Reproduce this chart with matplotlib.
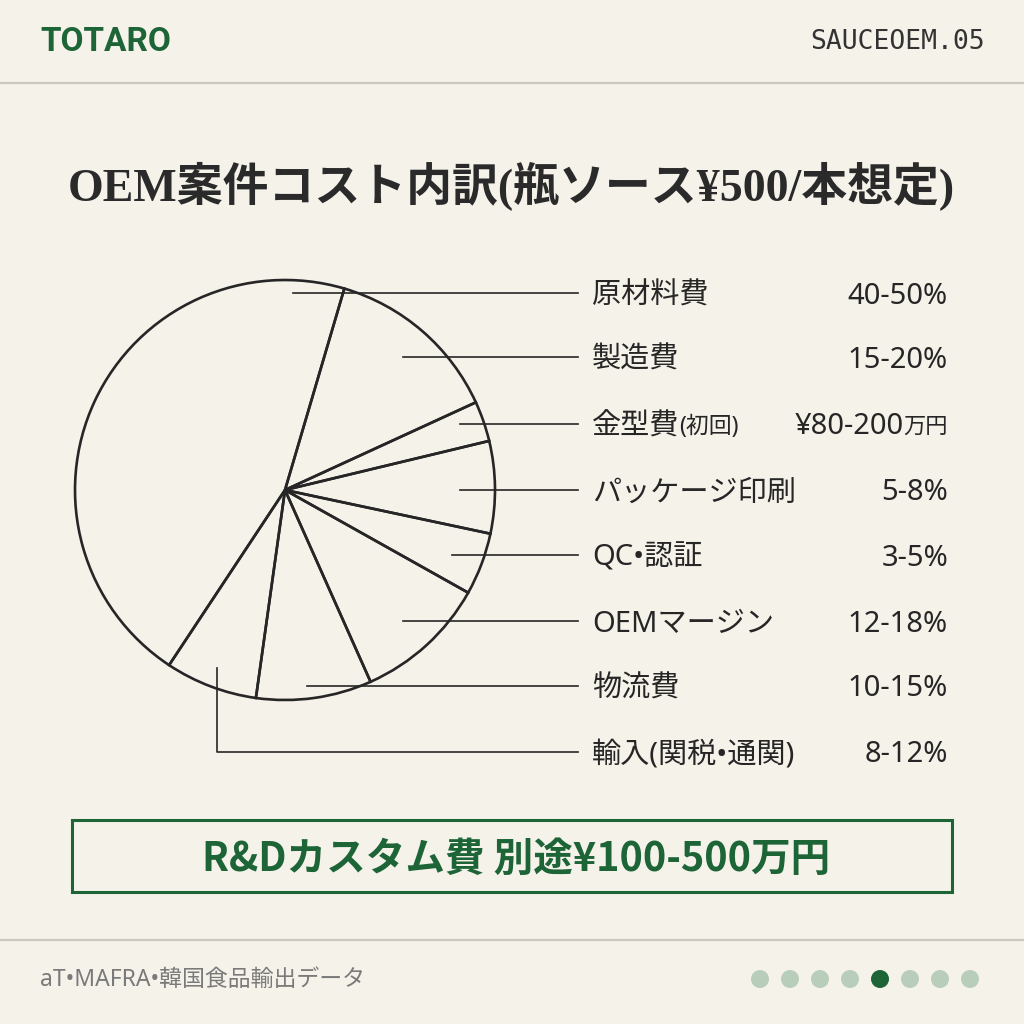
import matplotlib
matplotlib.use("Agg")
import matplotlib.pyplot as plt
from matplotlib.patches import Rectangle, Circle

# cost breakdown (share of the pie)
categories = ["原材料費", "製造費", "金型費", "パッケージ印刷", "QC•認証",
              "OEMマージン", "物流費", "輸入(関税•通関)"]
shares = [45.3, 13.6, 3.1, 7.1, 4.8, 10.2, 8.9, 7.1]
ranges = ["40-50%", "15-20%", "¥80-200万円", "5-8%", "3-5%",
          "12-18%", "10-15%", "8-12%"]

title = "OEM案件コスト内訳(瓶ソース¥500/本想定)"
note = "R&Dカスタム費 別途¥100-500万円"
source = "aT•MAFRA•韓国食品輸出データ"
page_dots = 8
page_active = 4

BG = "#F5F2EA"
GREEN = "#1D6437"
INK = "#262626"
RULE = "#CBC8BC"
JP = ["Noto Sans", "Noto Sans CJK JP", "DejaVu Sans"]

fig = plt.figure(figsize=(10.24, 10.24), dpi=100, facecolor=BG)
ax = fig.add_axes([0, 0, 1, 1])
ax.set_facecolor(BG)


def Y(py):
    return 1024 - py


# pie, outline only
ax.pie(shares, center=(285, Y(490)), radius=210, startangle=236.5,
       counterclock=False,
       wedgeprops=dict(fill=False, edgecolor=INK, linewidth=1.9))
ax.set_xlim(0, 1024)
ax.set_ylim(0, 1024)
ax.set_aspect("auto")
ax.axis("off")

# header / footer
ax.text(40, Y(42), "TOTARO", fontsize=24, fontweight="bold", color=GREEN,
        family=["Roboto", "DejaVu Sans"], ha="left", va="center")
ax.text(985, Y(42), "SAUCEOEM.05", fontsize=19, color="#333333",
        family="DejaVu Sans Mono", ha="right", va="center")
ax.plot([0, 1024], [Y(83), Y(83)], color=RULE, lw=1.6)
ax.plot([0, 1024], [Y(940), Y(940)], color=RULE, lw=1.6)
ax.text(40, Y(980), source, fontsize=16.5, color="#7a7a7a", family=JP,
        ha="left", va="center")
for i in range(page_dots):
    c = GREEN if i == page_active else "#B9CDBB"
    ax.add_patch(Circle((760 + 30 * i, Y(979)), 9, color=c, lw=0))

# title
ax.text(511, Y(187), title, fontsize=33, fontweight="bold", color="#2a2a2a",
        family=["Liberation Serif", "Noto Sans CJK JP"], ha="center", va="center")

# leader lines and labels
label_y = [293, 357, 424, 490, 555, 621, 686, 752]
anchor_x = [293, 403, 460, 460, 452, 403, 307, 217]
fig.canvas.draw()
rend = fig.canvas.get_renderer()
for i, (cat, rng) in enumerate(zip(categories, ranges)):
    y = Y(label_y[i])
    ty = y - 3
    if i == 7:
        ax.plot([anchor_x[i], anchor_x[i], 578], [Y(668), y, y], color=INK, lw=1.2)
    else:
        ax.plot([anchor_x[i], 578], [y, y], color=INK, lw=1.2)
    if i == 2:
        t = ax.text(592, ty, "金型費", fontsize=21, color=INK, family=JP,
                    ha="left", va="center")
        bb = t.get_window_extent(rend)
        ax.text(bb.x1, ty, "(初回)", fontsize=16.5, color=INK, family=JP,
                ha="left", va="center")
        t2 = ax.text(948, ty, "万円", fontsize=16, color=INK, family=JP,
                     ha="right", va="center")
        bb2 = t2.get_window_extent(rend)
        ax.text(bb2.x0, ty, "¥80-200", fontsize=21, color=INK, family=JP,
                ha="right", va="center")
    else:
        ax.text(592, ty, cat, fontsize=21, color=INK, family=JP,
                ha="left", va="center")
        ax.text(948, ty, rng, fontsize=21, color=INK, family=JP,
                ha="right", va="center")

# note box
ax.add_patch(Rectangle((72, Y(892)), 880, 72, fill=False, edgecolor=GREEN, lw=2.2))
ax.text(516, Y(859), note, fontsize=28.5, fontweight="bold", color=GREEN,
        family=["Noto Sans CJK JP", "DejaVu Sans"], ha="center", va="center")

fig.savefig("out.png", dpi=100, facecolor=BG)
